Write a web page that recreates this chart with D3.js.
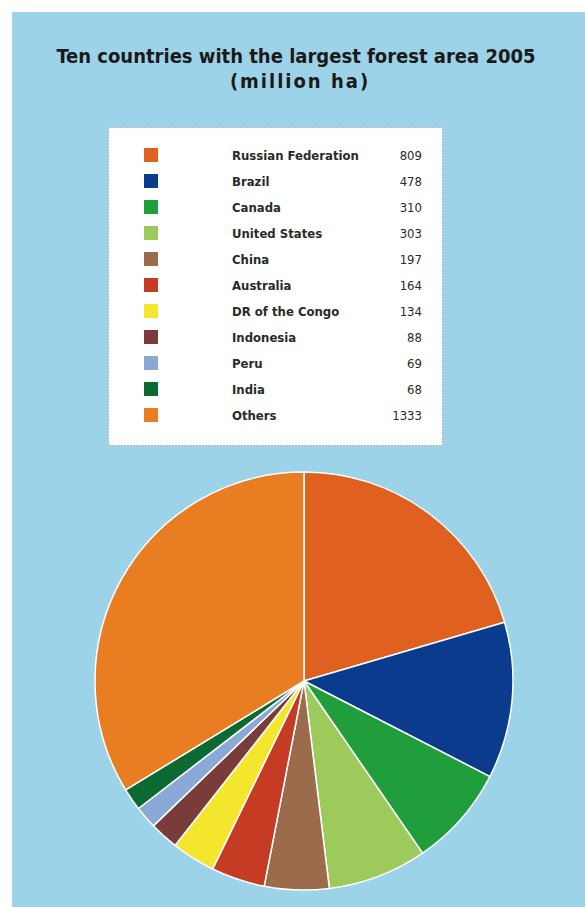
<!DOCTYPE html>
<html>
<head>
<meta charset="utf-8">
<script src="https://cdn.jsdelivr.net/npm/d3@7"></script>
<style>
  body { margin: 0; background: #fff; }
  svg { display: block; }
  .title { font-family: "Liberation Sans Narrow", "DejaVu Sans Condensed", sans-serif; font-weight: bold; fill: #1a1a1a; }
  .legend text { font-family: "DejaVu Sans Condensed", "Liberation Sans Narrow", sans-serif; font-size: 13px; font-weight: bold; fill: #2a2a2a; }
</style>
</head>
<body>
<svg width="585" height="907"></svg>
<script>
// forest area 2005, million ha
var countries = ["Russian Federation", "Brazil", "Canada", "United States", "China", "Australia",
                 "DR of the Congo", "Indonesia", "Peru", "India", "Others"];
var areas = [809, 478, 310, 303, 197, 164, 134, 88, 69, 68, 1333];
var colors = ["#e0611f", "#0b3b8c", "#1f9e3b", "#9ccb5b", "#9b6b4b", "#c63b23",
              "#f3e62c", "#7a3b3b", "#8aa9d6", "#0b6a31", "#e87d22"];

var data = countries.map(function(c, i) { return {name: c, value: areas[i], color: colors[i]}; });

var svg = d3.select("svg");

// blue panel
svg.append("rect")
    .attr("x", 12).attr("y", 12)
    .attr("width", 573).attr("height", 895)
    .attr("fill", "#9dd3e8");

svg.append("text").attr("class", "title")
    .attr("x", 296).attr("y", 63)
    .attr("text-anchor", "middle")
    .style("font-size", "20px")
    .text("Ten countries with the largest forest area 2005");
svg.append("text").attr("class", "title")
    .attr("x", 300).attr("y", 88)
    .attr("text-anchor", "middle")
    .style("font-size", "20px")
    .style("letter-spacing", "2px")
    .text("(million ha)");

// legend
var legend = svg.append("g").attr("class", "legend");
legend.append("rect")
    .attr("x", 108.5).attr("y", 127.5)
    .attr("width", 334).attr("height", 318)
    .attr("fill", "#fff")
    .attr("stroke", "#8a8a8a")
    .attr("stroke-width", 1)
    .attr("stroke-dasharray", "1,2");

var rowY = d3.scaleBand().domain(countries).range([142, 428]);

var rows = legend.selectAll("g.row").data(data).enter().append("g")
    .attr("class", "row")
    .attr("transform", function(d) { return "translate(0," + (rowY(d.name) + rowY.bandwidth() / 2) + ")"; });
rows.append("rect")
    .attr("x", 144).attr("y", -7)
    .attr("width", 14).attr("height", 14)
    .attr("fill", function(d) { return d.color; });
rows.append("text")
    .attr("x", 232).attr("y", 5)
    .text(function(d) { return d.name; });
rows.append("text")
    .attr("x", 422).attr("y", 5)
    .attr("text-anchor", "end")
    .style("font-weight", "normal")
    .text(function(d) { return d.value; });

// pie
var cx = 304, cy = 681, r = 209;
var pie = d3.pie().sort(null).value(function(d) { return d.value; });
var arc = d3.arc().innerRadius(0).outerRadius(r);

svg.append("g")
    .attr("transform", "translate(" + cx + "," + cy + ")")
    .selectAll("path")
    .data(pie(data))
    .enter().append("path")
    .attr("d", arc)
    .attr("fill", function(d) { return d.data.color; })
    .attr("stroke", "#fff")
    .attr("stroke-width", 1.5)
    .attr("stroke-linejoin", "round");
</script>
</body>
</html>
